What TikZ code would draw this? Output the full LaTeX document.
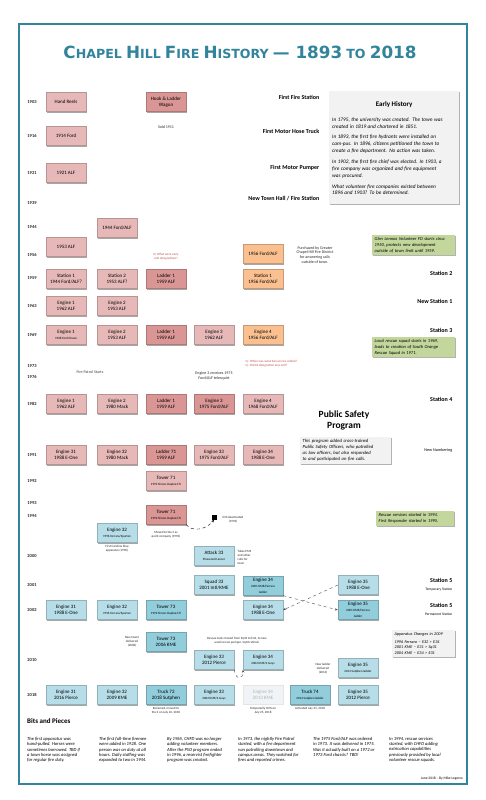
\documentclass[tikz,border=0pt]{standalone}
\usepackage{fontspec}
\setmainfont{Carlito}
\newfontfamily\titlefont{DejaVu Sans}
\usepackage{graphicx}
\usetikzlibrary{shadows,arrows.meta}
\pgfdeclarelayer{back}
\pgfdeclarelayer{lines}
\pgfsetlayers{back,lines,main}
\definecolor{teal1}{HTML}{31849B}
\definecolor{pkL}{HTML}{E6B9B8}
\definecolor{pkD}{HTML}{D99694}
\definecolor{orL}{HTML}{FAC090}
\definecolor{blL}{HTML}{B7DEE8}
\definecolor{blD}{HTML}{92CDDC}
\definecolor{grB}{HTML}{C3D69B}
\definecolor{gyB}{HTML}{F2F2F2}
\definecolor{qred}{HTML}{C0504D}
\definecolor{psp}{HTML}{EAF0F7}
\definecolor{patrol}{HTML}{F9C9CE}
\definecolor{fadeB}{HTML}{F0F4F6}
\newcommand\sm{\fontsize{3.2}{4}\selectfont}
\newcommand\tn{\fontsize{4}{4.8}\selectfont}
\newcommand\TSC[2]{{\fontsize{14}{14}\selectfont #1}{\fontsize{10.5}{10.5}\selectfont #2}}
\begin{document}
\begin{tikzpicture}[x=1pt,y=-1pt,
  box/.style={minimum width=40pt,minimum height=19pt,inner sep=0.8pt,align=center,
    font=\fontsize{5}{5.8}\selectfont, draw=#1!80!black, line width=0.3pt, fill=#1,
    drop shadow={shadow xshift=1.2pt,shadow yshift=-1.2pt,opacity=0.35,fill=black}},
  pk/.style={box=pkL}, pkd/.style={box=pkD}, orb/.style={box=orL},
  bl/.style={box=blL}, bld/.style={box=blD},
  fade/.style={minimum width=40pt,minimum height=19pt,inner sep=0.8pt,align=center,
    font=\fontsize{5}{5.8}\selectfont, fill=fadeB, text=black!30, draw=black!10, line width=0.3pt},
  yr/.style={font=\fontsize{4.5}{5}\selectfont\bfseries, text=black!85},
  rlab/.style={font=\fontsize{6}{7}\selectfont\bfseries, anchor=south east, inner sep=0.5pt},
  rsub/.style={font=\fontsize{3.6}{4.2}\selectfont, anchor=north east, inner sep=0.5pt},
  note/.style={font=\tn, align=center, inner sep=0.5pt, text=black!85},
  qn/.style={font=\sm, text=qred, align=left, inner sep=0.5pt, fill=white},
  rowM/.style={draw=black!45, line width=0.9pt},
  rowD/.style={draw=black!45, line width=0.7pt},
  rowL/.style={draw=black!18, line width=0.6pt},
  vcon/.style={draw=black!45, line width=0.5pt},
  infobox/.style={inner sep=2.5pt, align=left, font=\fontsize{4.6}{5.6}\selectfont\itshape,
    drop shadow={shadow xshift=1pt,shadow yshift=-1pt,opacity=0.3,fill=black}},
  bits/.style={anchor=north west, inner sep=0pt, align=left, font=\fontsize{4.6}{5.3}\selectfont\itshape}
]
\useasboundingbox (0,0) rectangle (486,800);
\fill[white] (0,0) rectangle (486,800);
\draw[teal1, line width=1.8pt] (19,24) rectangle (467,784);

% title
\node[text=teal1, inner sep=0pt] (title) at (240,52)
 {\resizebox{353pt}{!}{\titlefont\bfseries \TSC{C}{HAPEL} \TSC{H}{ILL} \TSC{F}{IRE} \TSC{H}{ISTORY} {\fontsize{14}{14}\selectfont \textemdash\ 1893} {\fontsize{10.5}{10.5}\selectfont TO} {\fontsize{14}{14}\selectfont 2018}}};

% background regions
\begin{pgfonlayer}{back}
\fill[psp] (43,384) rectangle (455,509);
\fill[patrol, opacity=0.8] (43,366) rectangle (137,383);
\end{pgfonlayer}
\node[font=\tn, text=black!75] (patrolt) at (90,372) {Fire Patrol Starts};

% year rows
\foreach \yr/\yy/\xe/\st in {1903/102/322/rowM,1916/136/322/rowM,1921/173/322/rowM,1939/203/322/rowM,
  1944/227/455/rowL,1956/255/455/rowL,1959/278/455/rowD,1963/306/455/rowD,1969/335/455/rowD,
  1973/366/455/rowL,1976/377/455/rowL,1982/404/455/rowD,1991/455/455/rowD,1992/481/455/rowL,
  1993/503/455/rowL,1994/516/455/rowL,2000/556/455/rowL,2001/585/455/rowD,2002/610/455/rowD,
  2010/660/455/rowL,2018/695/455/rowD}{
  \node[yr] (Y\yr) at (32,\yy) {\yr};
  \coordinate (L\yr) at (43,\yy);
  \coordinate (R\yr) at (\xe,\yy);
  \begin{pgfonlayer}{lines}\draw[\st] (L\yr) -- (R\yr);\end{pgfonlayer}
}

% right labels
\node[rlab] (lab1) at (320,100) {First Fire Station};
\node[rlab] (lab2) at (320,134) {First Motor Hose Truck};
\node[rlab] (lab3) at (320,171) {First Motor Pumper};
\node[rlab] (lab4) at (320,201) {New Town Hall / Fire Station};
\node[rlab] (lab5) at (453,276) {Station 2};
\node[rlab] (lab6) at (453,304) {New Station 1};
\node[rlab] (lab7) at (453,333) {Station 3};
\node[rlab] (lab8) at (453,402) {Station 4};
\node[rsub, anchor=south east] (lab9) at (453,453) {\fontsize{4.2}{5}\selectfont New Numbering};
\node[rlab] (lab10) at (453,583) {Station 5};
\node[rsub] (lab11) at (453,587) {Temporary Station};
\node[rlab] (lab12) at (453,608) {Station 5};
\node[rsub] (lab13) at (453,612) {Permanent Station};

% early history
\node[infobox, fill=gyB, anchor=north west, text width=124pt, minimum height=113pt, inner sep=3pt] (early) at (329,91)
 {\centering{\upshape\bfseries\fontsize{7}{9}\selectfont Early History\par}\vspace{4pt}
  \raggedright\fontsize{5.3}{7}\selectfont\setlength{\parskip}{3.8pt}
  In 1795, the university was created. The town was\\created in 1819 and chartered in 1851.\par
  In 1893, the first fire hydrants were installed on\\cam-pus. In 1896, citizens petitioned the town to\\create a fire department. No action was taken.\par
  In 1902, the first fire chief was elected. In 1903, a\\fire company was organized and fire equipment\\was procured.\par
  What volunteer fire companies existed between\\1896 and 1903? To be determined.};

% early apparatus
\node[pk] (hand) at (66,102) {Hand Reels};
\node[pkd] (hook) at (166,102) {Hook \& Ladder\\Wagon};
\node[note] (sold) at (166,127) {Sold 1911};
\node[pk] (f14) at (66,136) {1914 Ford};
\node[pk] (a21) at (66,173) {1921 ALF};
\node[pk] (f44) at (117,228) {1944 Ford/ALF};
\node[pk] (a53) at (66,247) {1953 ALF};
\node[qn, align=center] (q1) at (166,257) {Q: What were early\\unit designations?};
\node[orb] (f56) at (263,254) {1956 Ford/ALF};
\node[note] (purch) at (315,255) {Purchased by Greater\\Chapel Hill Fire District\\for answering calls\\outside of town.};
\node[infobox, fill=grB, anchor=north west, text width=78pt, font=\fontsize{4.5}{5.6}\selectfont\itshape] (glen) at (372,235)
 {Glen Lennox Volunteer FD starts circa\\1950, protects new development\\outside of town limit until 1959.};

% 1959
\node[pk] (s1) at (66,279) {Station 1\\1944 Ford/ALF?};
\node[pk] (s2) at (117,279) {Station 2\\1953 ALF?};
\node[pkd] (l1a) at (166,279) {Ladder 1\\1959 ALF};
\node[orb] (s1b) at (263,279) {Station 1\\1956 Ford/ALF};
% 1963
\node[pk] (e1a) at (66,306) {Engine 1\\1962 ALF};
\node[pk] (e2a) at (117,306) {Engine 2\\1953 ALF};
% 1969
\node[pk] (e1b) at (66,335) {Engine 1\\{\sm 1968 Ford/Howe}};
\node[pk] (e2b) at (117,335) {Engine 2\\1953 ALF};
\node[pkd] (l1b) at (166,335) {Ladder 1\\1959 ALF};
\node[pk] (e3a) at (214,335) {Engine 3\\1962 ALF};
\node[orb] (e4a) at (263,335) {Engine 4\\1956 Ford/ALF};
\coordinate (e4end) at (263,356);
\node[infobox, fill=grB, anchor=north west, text width=78pt, font=\fontsize{4.5}{5.6}\selectfont\itshape] (rescue) at (372,337)
 {Local rescue squad starts in 1969,\\leads to creation of South Orange\\Rescue Squad in 1971.};
\node[qn, anchor=north west] (q2) at (245,360) {Q : When was suburban service ended?\\Q : Did E4 designation also end?};
\node[note, fill=white] (tele) at (214,376) {Engine 3 receives 1975\\Ford/ALF telesquirt};

% 1982
\node[pk] (e1c) at (66,404) {Engine 1\\1962 ALF};
\node[pk] (e2c) at (117,404) {Engine 2\\1980 Mack};
\node[pkd] (l1c) at (166,404) {Ladder 1\\1959 ALF};
\node[pkd] (e3b) at (214,404) {Engine 3\\1975 Ford/ALF};
\node[pk] (e4b) at (263,404) {Engine 4\\1968 Ford/ALF};
\node[font=\fontsize{9.5}{11}\selectfont\bfseries, align=center] (pspt) at (344,420) {Public Safety\\Program};
\node[infobox, fill=gyB, anchor=north west, text width=86pt, font=\fontsize{4.7}{5.9}\selectfont\itshape] (pspbox) at (300,437)
 {This program added cross-trained\\Public Safety Officers, who patrolled\\as law officers, but also responded\\to and participated on fire calls.};
% 1991
\node[pk] (e31a) at (66,455) {Engine 31\\1988 E-One};
\node[pk] (e32a) at (117,455) {Engine 32\\1980 Mack};
\node[pkd] (l71) at (166,455) {Ladder 71\\1959 ALF};
\node[pk] (e33a) at (214,455) {Engine 33\\1975 Ford/ALF};
\node[pk] (e34a) at (263,455) {Engine 34\\1988 E-One};
% 1992-1994
\node[pk] (t71a) at (166,481) {Tower 71\\{\sm 1992 Simon-Duplex/LTI}};
\node[pkd] (t71b) at (166,515) {Tower 71\\{\sm 1992 Simon-Duplex/LTI}};
\node[fill=black, minimum size=5pt, inner sep=0pt] (sq) at (214,517) {};
\node[note, font=\sm, align=center] (e33d) at (233,520) {E33 deactivated\\(1994)};
\node[note, font=\sm] (moved) at (166,535) {Moved to Sta 3 as\\quint company (1994)};
\node[infobox, fill=grB, anchor=north west, text width=73pt, font=\fontsize{4.5}{5.6}\selectfont\itshape] (resc94) at (376,511)
 {Rescue services started in 1994.\\First Responder started in 1995.};
% 1996-2000
\node[bl] (e32b) at (117,533) {Engine 32\\{\sm 1996 Ferrara/Spartan}};
\node[note, font=\sm] (carol) at (117,549) {First Carolina blue\\apparatus (1996)};
\node[bl] (at33) at (214,556) {Attack 33\\{\sm Pinewood Lancer}};
\node[note, font=\sm, align=left, anchor=west] (ems) at (237,557) {Takes EMS\\and other\\calls for\\town};
% 2001
\node[bl] (sq33) at (214,585) {Squad 33\\2001 Intl/KME};
\node[bld] (e34b) at (263,586) {Engine 34\\{\sm 2001 KME/Ferrara}\\{\sm ladder}};
\node[bl] (e35a) at (358,585) {Engine 35\\1988 E-One};
% 2002
\node[bl] (e31b) at (66,610) {Engine 31\\1988 E-One};
\node[bl] (e32c) at (117,610) {Engine 32\\{\sm 1996 Ferrara/Spartan}};
\node[bld] (t73a) at (166,610) {Tower 73\\{\sm 1992 Simon-Duplex/LTI}};
\node[bl] (e34c) at (263,610) {Engine 34\\1988 E-One};
\node[bld] (e35b) at (358,610) {Engine 35\\{\sm 2001 KME/Ferrara}\\{\sm ladder}};
% 2006-2014
\node[bld] (t73b) at (166,642) {Tower 73\\2006 KME};
\node[note, font=\sm] (newt) at (132,642) {New tower\\delivered\\(2006)};
\node[note, font=\sm] (tools) at (237,641) {Rescue tools moved from Sq33 to E34, to new\\used rescue pumper. Sq33 retired.};
\node[bl] (e33b) at (214,660) {Engine 33\\2012 Pierce};
\node[bl] (e34d) at (263,660) {Engine 34\\{\sm 2002 KME/4 Guys}};
\node[note, font=\sm] (newl) at (323,669) {New ladder\\delivered\\(2014)};
\node[bl] (e35c) at (358,668) {Engine 35\\{\sm 2014 Sutphen ladder}};
\node[infobox, fill=gyB, anchor=north west, text width=58pt, font=\fontsize{4.2}{5.6}\selectfont\itshape] (chg) at (392,630)
 {Apparatus Changes in 2009\\[2pt]1996 Ferrara \textendash\ E32 > E34\\2001 KME \textendash\ E31 > Sq31\\2004 KME \textendash\ E34 > E31};
% 2018
\node[bl] (e31c) at (66,695) {Engine 31\\2016 Pierce};
\node[bl] (e32d) at (117,695) {Engine 32\\2009 KME};
\node[bld] (tr72) at (166,695) {Truck 72\\2018 Sutphen};
\node[bl] (e33c) at (214,695) {Engine 33\\{\sm 2002 KME/4 Guys}};
\node[fade] (e34e) at (263,695) {Engine 34\\2013 KME};
\node[bld] (tr74) at (310,695) {Truck 74\\{\sm 2014 Sutphen ladder}};
\node[bl] (e35d) at (358,695) {Engine 35\\2012 Pierce};
\node[note, font=\sm] (ren) at (166,711) {Renamed, moved to\\Sta 2 on July 24, 2018};
\node[note, font=\sm] (oos) at (263,711) {Temporarily OOS on\\July 25, 2018};
\node[note, font=\sm] (act) at (310,709) {Activated July 25, 2018};

% vertical connectors
\begin{pgfonlayer}{lines}
\draw[vcon] (s1) -- (e1a) -- (e1b) -- (e1c) -- (e31a) -- (e31b) -- (e31c);
\draw[vcon] (s2) -- (e2a) -- (e2b) -- (e2c) -- (e32a) -- (e32b) -- (e32c) -- (e32d);
\draw[vcon] (l1a) -- (l1b) -- (l1c) -- (l71) -- (t71a) -- (t71b) -- (t73a) -- (t73b) -- (tr72);
\draw[vcon] (e3a) -- (e3b) -- (e33a) -- (sq);
\draw[vcon] (at33) -- (sq33) -- (e33b) -- (e33c);
\draw[vcon] (f56) -- (s1b) -- (e4a);
\draw[vcon, -{Triangle[length=2.5pt,width=3pt]}] (e4a) -- (e4end);
\draw[vcon] (e4b) -- (e34a) -- (e34b) -- (e34c) -- (e34d) -- (e34e);
\draw[vcon] (e35a) -- (e35b) -- (e35c) -- (e35d);
\end{pgfonlayer}
% dashed moves
\draw[dashed, line width=0.4pt, -{Stealth[length=3pt]}] (t71b.south east) .. controls (192,532) and (206,530) .. (sq.south);
\draw[dashed, line width=0.4pt, black!70, -{Stealth[length=3pt]}] (e34b.south east) -- (e35b.west);
\draw[dashed, line width=0.4pt, black!70, -{Stealth[length=3pt]}] (e35a.west) -- (e34c.east);
\draw[dashed, line width=0.4pt, black!70, -{Stealth[length=3pt]}] (e33b.south east) .. controls (236,682) and (244,678) .. (e34d.south west);

% bits and pieces
\node[anchor=west, font=\fontsize{7}{8}\selectfont\bfseries, inner sep=0pt] (bitst) at (27,721) {Bits and Pieces};
\node[bits] (b1) at (27,737) {The first apparatus was\\hand-pulled. Horses were\\sometimes borrowed. TBD if\\a town horse was assigned\\for regular fire duty.};
\node[bits] (b2) at (99,737) {The first full-time firemen\\were added in 1928. One\\person was on duty at all\\hours. Daily staffing was\\expanded to two in 1944.};
\node[bits] (b3) at (167,737) {By 1965, CHFD was no longer\\adding volunteer members.\\After the PSO program ended\\in 1996, a reservist firefighter\\program was created.};
\node[bits] (b4) at (238,737) {In 1973, the nightly Fire Patrol\\started, with a fire department\\van patrolling downtown and\\campus areas. They watched for\\fires and reported crimes.};
\node[bits] (b5) at (313,737) {The 1975 Ford/ALF was ordered\\in 1973. It was delivered in 1975.\\Was it actually built on a 1972 or\\1973 Ford chassis? TBD!};
\node[bits] (b6) at (389,737) {In 1994, rescue services\\started, with CHFD adding\\extrication capabilities\\previously provided by local\\volunteer rescue squads.};
\node[anchor=east, font=\fontsize{3.6}{4}\selectfont, inner sep=0pt] (foot) at (463,779) {June 2018 \textendash\ By Mike Legeros};
\end{tikzpicture}
\end{document}
